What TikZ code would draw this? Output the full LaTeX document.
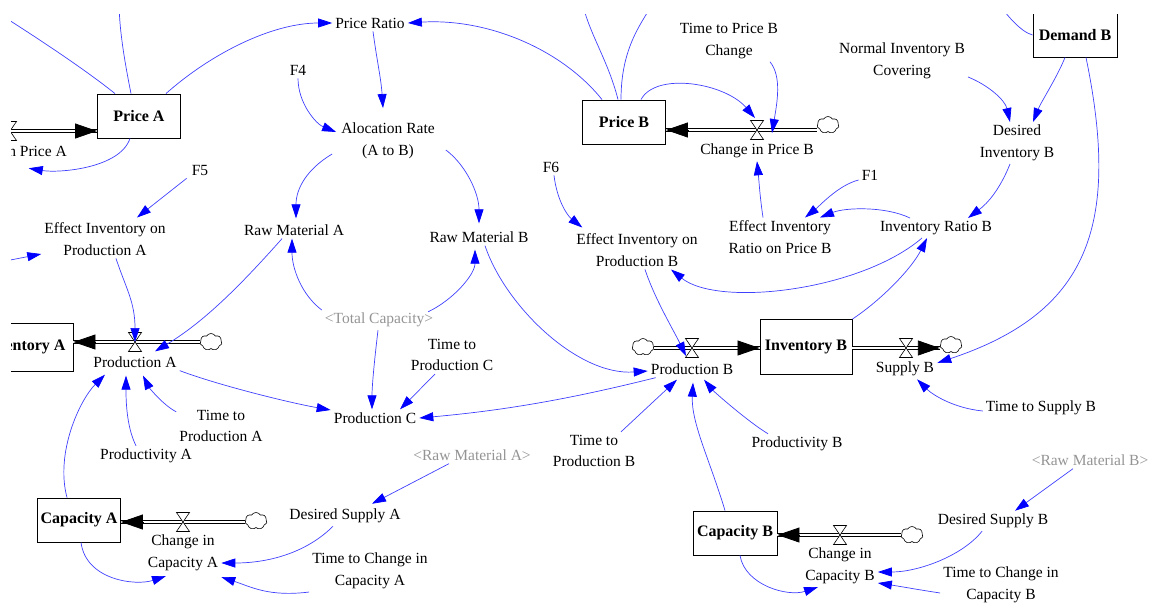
\documentclass[tikz,border=0pt]{standalone}
\usepackage{fontspec}
\setmainfont{Liberation Serif}
\usetikzlibrary{arrows.meta,shapes.symbols,calc}
\begin{document}
\begin{tikzpicture}[x=1pt,y=-1pt,
  font=\fontsize{15.5}{21.5}\selectfont,
  aux/.style={align=center, inner sep=3pt},
  ghost/.style={aux, text=black!42},
  stock/.style={draw=black, line width=0.9pt, fill=white, inner sep=2pt,
    font=\fontsize{16}{20}\selectfont\bfseries, minimum width=83pt, minimum height=44pt},
  conn/.style={draw=blue!75!white, line width=0.7pt, -{Triangle[length=14pt,width=9pt,color=blue]}},
  link/.style={draw=blue!75!white, line width=0.7pt},
  pipe/.style={draw=black, line width=0.8pt, double=white, double distance=2.6pt},
  flowhead/.style={draw=black, line width=0.8pt, -{Triangle[length=22pt,width=15pt]}},
  cloudn/.style={cloud, cloud puffs=7, cloud puff arc=120, cloud ignores aspect, draw=black,
    line width=0.6pt, fill=white, minimum width=22pt, minimum height=17pt, inner sep=0pt},
  valve/.pic={\filldraw[fill=white,draw=black,line width=0.6pt] (-6.5,-9.5) -- (6.5,-9.5) -- (-6.5,9.5) -- (6.5,9.5) -- cycle;}
]
\useasboundingbox (0,0) rectangle (1150,603);
\clip (11,14) rectangle (1150,603);

% ---------- stocks ----------
\node[stock] (priceA) at (139,116) {Price A};
\node[stock, minimum width=98pt, minimum height=48pt] (invA) at (24,347) {Inventory A};
\node[stock] (capA) at (79,520) {Capacity A};
\node[stock] (priceB) at (624,122) {Price B};
\node[stock, minimum width=84pt, minimum height=44pt] (demB) at (1075,35) {Demand B};
\node[stock, minimum width=92pt, minimum height=55pt] (invB) at (806,347) {Inventory B};
\node[stock, minimum width=84pt, minimum height=44pt] (capB) at (735,533) {Capacity B};

% ---------- auxiliaries ----------
\node[aux] (pr) at (370,23) {Price Ratio};
\node[aux] (f4) at (298,70) {F4};
\node[aux] (alloc) at (388,141) {Alocation Rate\\(A to B)};
\node[aux] (rma) at (294,230) {Raw Material A};
\node[aux] (rmb) at (479,237) {Raw Material B};
\node[aux] (f5) at (200,170) {F5};
\node[aux] (eipa) at (105,239) {Effect Inventory on\\Production A};
\node[ghost] (tc) at (379,320) {<Total Capacity>};
\node[aux] (prodA) at (135,362) {Production A};
\node[aux] (prodC) at (375,418) {Production C};
\node[aux] (ttpc) at (452,355) {Time to\\Production C};
\node[aux] (ttpa) at (221,426) {Time to\\Production A};
\node[aux] (pa) at (146,456) {Productivity A};
\node[aux] (chcapA) at (183,553) {Change in\\Capacity A};
\node[aux] (dsa) at (345,516) {Desired Supply A};
\node[ghost] (rmaS) at (472,455) {<Raw Material A>};
\node[aux] (ttcca) at (370,571) {Time to Change in\\Capacity A};
\node[aux, anchor=east] (chpA) at (70,153) {Change in Price A};
\node[aux] (chpB) at (757,151) {Change in Price B};
\node[aux] (ttpbc) at (729,41) {Time to Price B\\Change};
\node[aux] (eirpb) at (780,237) {Effect Inventory\\Ratio on Price B};
\node[aux] (f1) at (870,175) {F1};
\node[aux] (irb) at (936,228) {Inventory Ratio B};
\node[aux] (dib) at (1017,143) {Desired\\Inventory B};
\node[aux] (nibc) at (902,61) {Normal Inventory B\\Covering};
\node[aux] (f6) at (551,167) {F6};
\node[aux] (eipb) at (637,250) {Effect Inventory on\\Production B};
\node[aux] (prodB) at (692,369) {Production B};
\node[aux] (supB) at (905,369) {Supply B};
\node[aux] (tsb) at (1041,408) {Time to Supply B};
\node[aux] (ttpb) at (594,451) {Time to\\Production B};
\node[aux] (pb) at (797,444) {Productivity B};
\node[aux] (chcapB) at (840,566) {Change in\\Capacity B};
\node[ghost] (rmbS) at (1090,460) {<Raw Material B>};
\node[aux] (dsb) at (993,521) {Desired Supply B};
\node[aux] (ttccb) at (1001,585) {Time to Change in\\Capacity B};

% ---------- clouds and valves ----------
\node[cloudn] (cProdA) at (211,342) {};
\node[cloudn] (cCapA) at (256,521) {};
\node[cloudn] (cPB) at (828,125) {};
\node[cloudn] (cProdB) at (643,347) {};
\node[cloudn] (cSupB) at (951,345) {};
\node[cloudn] (cCapB) at (912,535) {};
\coordinate (srcPA) at (-40,131);
\coordinate (vPA) at (10,131);
\coordinate (vA) at (135,342);
\coordinate (vCapA) at (183,522);
\coordinate (vPB) at (757,130);
\coordinate (vProdB) at (692,348);
\coordinate (vSupB) at (906,348);
\coordinate (vCapB) at (840,535);

% ---------- pipes ----------
\draw[pipe] (srcPA) -- (priceA.west |- vPA);
\draw[flowhead] ($(priceA.west |- vPA)+(-22,0)$) -- (priceA.west |- vPA);
\draw[pipe] (cProdA.west |- vA) -- (invA.east |- vA);
\draw[flowhead] ($(invA.east |- vA)+(22,0)$) -- (invA.east |- vA);
\draw[pipe] (cCapA.west |- vCapA) -- (capA.east |- vCapA);
\draw[flowhead] ($(capA.east |- vCapA)+(22,0)$) -- (capA.east |- vCapA);
\draw[pipe] (cPB.west |- vPB) -- (priceB.east |- vPB);
\draw[flowhead] ($(priceB.east |- vPB)+(22,0)$) -- (priceB.east |- vPB);
\draw[pipe] (cProdB.east |- vProdB) -- (invB.west |- vProdB);
\draw[flowhead] ($(invB.west |- vProdB)+(-22,0)$) -- (invB.west |- vProdB);
\draw[pipe] (invB.east |- vSupB) -- (cSupB.west |- vSupB);
\draw[flowhead] ($(cSupB.west |- vSupB)+(-22,0)$) -- (cSupB.west |- vSupB);
\draw[pipe] (cCapB.west |- vCapB) -- (capB.east |- vCapB);
\draw[flowhead] ($(capB.east |- vCapB)+(22,0)$) -- (capB.east |- vCapB);
\pic at (vPA) {valve};
\pic at (vA) {valve};
\pic at (vCapA) {valve};
\pic at (vPB) {valve};
\pic at (vProdB) {valve};
\pic at (vSupB) {valve};
\pic at (vCapB) {valve};

% ---------- connectors: left part ----------
\coordinate (extA1) at (-10,8);
\coordinate (extA2) at (119,0);
\coordinate (extL) at (-5,263);
\draw[link] ([xshift=-24pt]priceA.north) .. controls +(-35,-28) and +(35,22) .. (extA1);
\draw[link] ([xshift=-8pt]priceA.north) .. controls +(-8,-40) and +(0,25) .. (extA2);
\draw[conn] ([xshift=27pt]priceA.north) .. controls +(45,-40) and +(-60,0) .. (pr.west);
\draw[conn] ([xshift=-9pt]priceA.south) .. controls +(-10,30) and +(30,5) .. ([xshift=19pt,yshift=-5pt]chpA.south);
\draw[conn] ([xshift=3pt]pr.south) .. controls +(4,30) and +(-2,-30) .. ([xshift=-5pt,yshift=12pt]alloc.north);
\draw[conn] (f4.south) .. controls +(0,25) and +(-20,-8) .. ([xshift=-2pt,yshift=9pt]alloc.west);
\draw[conn] ([xshift=-6pt,yshift=-13pt]alloc.west) .. controls +(-25,15) and +(0,-30) .. ([xshift=2pt,yshift=3pt]rma.north);
\draw[conn] ([xshift=8pt,yshift=-9pt]alloc.east) .. controls +(20,15) and +(0,-30) .. ([yshift=5pt]rmb.north);
\draw[conn] ([xshift=-2pt]f5.south west) -- ([xshift=32pt,yshift=2pt]eipa.north);
\draw[conn] (extL) -- ([yshift=-15pt]eipa.west);
\draw[conn] ([xshift=11pt]eipa.south) .. controls +(10,30) and +(0,-40) .. (vA);
\draw[conn] ([xshift=-12pt]rma.south) .. controls +(-40,45) and +(50,-30) .. ([xshift=20pt,yshift=2pt]prodA.north);
\draw[conn] ([yshift=10pt]tc.west) .. controls +(-20,-15) and +(0,30) .. ([xshift=-2pt]rma.south);
\draw[conn] ([xshift=-8pt,yshift=-2pt]tc.north east) .. controls +(25,-12) and +(0,25) .. ([xshift=-4pt,yshift=-4pt]rmb.south);
\draw[conn] ([xshift=-1pt]tc.south) .. controls +(-3,25) and +(0,-25) .. ([xshift=-3pt]prodC.north);
\draw[conn] (prodA.south east) .. controls +(40,15) and +(-40,-7) .. ([yshift=8pt]prodC.west);
\draw[conn] ([xshift=-17pt]ttpc.south) -- ([xshift=25pt]prodC.north);
\draw[conn] ([xshift=8pt]prodB.south west) .. controls +(-80,20) and +(90,-8) .. (prodC.east);
\draw[conn] ([yshift=-5pt]ttpa.north west) .. controls +(-15,-8) and +(5,10) .. ([xshift=8pt,yshift=-5pt]prodA.south);
\draw[conn] ([xshift=-10pt]pa.north) .. controls +(-10,-20) and +(0,22) .. ([xshift=-9pt,yshift=-5pt]prodA.south);
\draw[conn] ([xshift=-12pt]capA.north) .. controls +(-12,-45) and +(-25,25) .. ([xshift=-30pt,yshift=-4pt]prodA.south);
\draw[conn] ([xshift=2pt]capA.south) .. controls +(5,38) and +(-30,10) .. ([xshift=-17pt,yshift=-2pt]chcapA.south);
\draw[conn] ([xshift=-23pt]rmaS.south) -- ([xshift=27pt,yshift=2pt]dsa.north);
\draw[conn] ([xshift=-12pt]dsa.south) .. controls +(-25,25) and +(50,0) .. ([yshift=-10pt]chcapA.east);
\draw[conn] ([yshift=-21pt]ttcca.west) .. controls +(-40,5) and +(30,10) .. ([yshift=-3pt]chcapA.south east);

% ---------- connectors: right part ----------
\coordinate (extB1) at (582,0);
\coordinate (extB2) at (652,5);
\coordinate (extD) at (1000,5);
\draw[link] ([xshift=-6pt]priceB.north) .. controls +(-10,-40) and +(5,30) .. (extB1);
\draw[link] ([xshift=-3pt]priceB.north) .. controls +(0,-50) and +(-12,20) .. (extB2);
\draw[link] (demB.west) .. controls +(-12,-3) and +(5,8) .. (extD);
\draw[conn] ([xshift=-22pt]priceB.north) .. controls +(-40,-50) and +(80,-5) .. (pr.east);
\draw[conn] ([xshift=17pt]priceB.north) .. controls +(15,-28) and +(-30,-35) .. ($(vPB)+(-2,-12)$);
\draw[conn] ([xshift=41pt]ttpbc.south) .. controls +(12,15) and +(5,-30) .. ($(vPB)+(15,3)$);
\draw[conn] ([xshift=-17pt]eirpb.north) .. controls +(-3,-20) and +(2,20) .. (chpB.south);
\draw[conn] ([yshift=-5pt]f1.west) .. controls +(-20,5) and +(15,-12) .. ([xshift=25pt]eirpb.north);
\draw[conn] ([xshift=-26pt]irb.north) .. controls +(-25,-12) and +(25,-10) .. ([xshift=40pt]eirpb.north);
\draw[conn] ([xshift=-7pt]dib.south) .. controls +(-10,25) and +(20,-15) .. ([xshift=32pt]irb.north);
\draw[conn] ([yshift=5pt]nibc.south east) .. controls +(20,8) and +(-5,-22) .. ([xshift=-7pt]dib.north);
\draw[conn] ([xshift=-10pt]demB.south) .. controls +(-8,20) and +(8,-20) .. ([xshift=16pt]dib.north);
\draw[conn] ([xshift=11pt]demB.south) .. controls +(35,170) and +(150,-50) .. ([yshift=6pt]supB.east);
\draw[conn] ([xshift=-14pt]irb.south) .. controls +(-62,53) and +(47,38) .. ([xshift=34pt]eipb.south);
\draw[conn] (invB.north east) .. controls +(30,-20) and +(-15,30) .. ([xshift=-9pt]irb.south);
\draw[conn] ([xshift=3pt]f6.south) .. controls +(3,25) and +(-15,-12) .. ([xshift=9pt,yshift=3pt]eipb.north west);
\draw[conn] ([xshift=8pt]eipb.south) .. controls +(10,30) and +(-12,-25) .. ($(vProdB)+(-6,8)$);
\draw[conn] ([xshift=6pt]rmb.south) .. controls +(20,60) and +(-70,5) .. ([yshift=-2pt]prodB.west);
\draw[conn] ([xshift=27pt]ttpb.north) -- ([xshift=-15pt,yshift=-2pt]prodB.south);
\draw[conn] ([xshift=-29pt]pb.north) .. controls +(-20,-12) and +(10,12) .. ([xshift=12pt,yshift=-2pt]prodB.south);
\draw[conn] ([xshift=-10pt]capB.north) .. controls +(-15,-50) and +(-2,40) .. ([xshift=1pt,yshift=-5pt]prodB.south);
\draw[conn] ([xshift=5pt]capB.south) .. controls +(5,30) and +(-30,10) .. ([xshift=-22pt]chcapB.south);
\draw[conn] ([yshift=-3pt]tsb.west) .. controls +(-30,-3) and +(15,15) .. ([xshift=12pt]supB.south);
\draw[conn] ([xshift=-17pt]rmbS.south) -- ([xshift=22pt]dsb.north);
\draw[conn] ([xshift=-11pt]dsb.south) .. controls +(-20,25) and +(40,0) .. ([yshift=-6pt]chcapB.east);
\draw[conn] ([yshift=-8pt]ttccb.west) .. controls +(-20,-3) and +(20,3) .. ([yshift=-17pt]chcapB.east);
\end{tikzpicture}
\end{document}
